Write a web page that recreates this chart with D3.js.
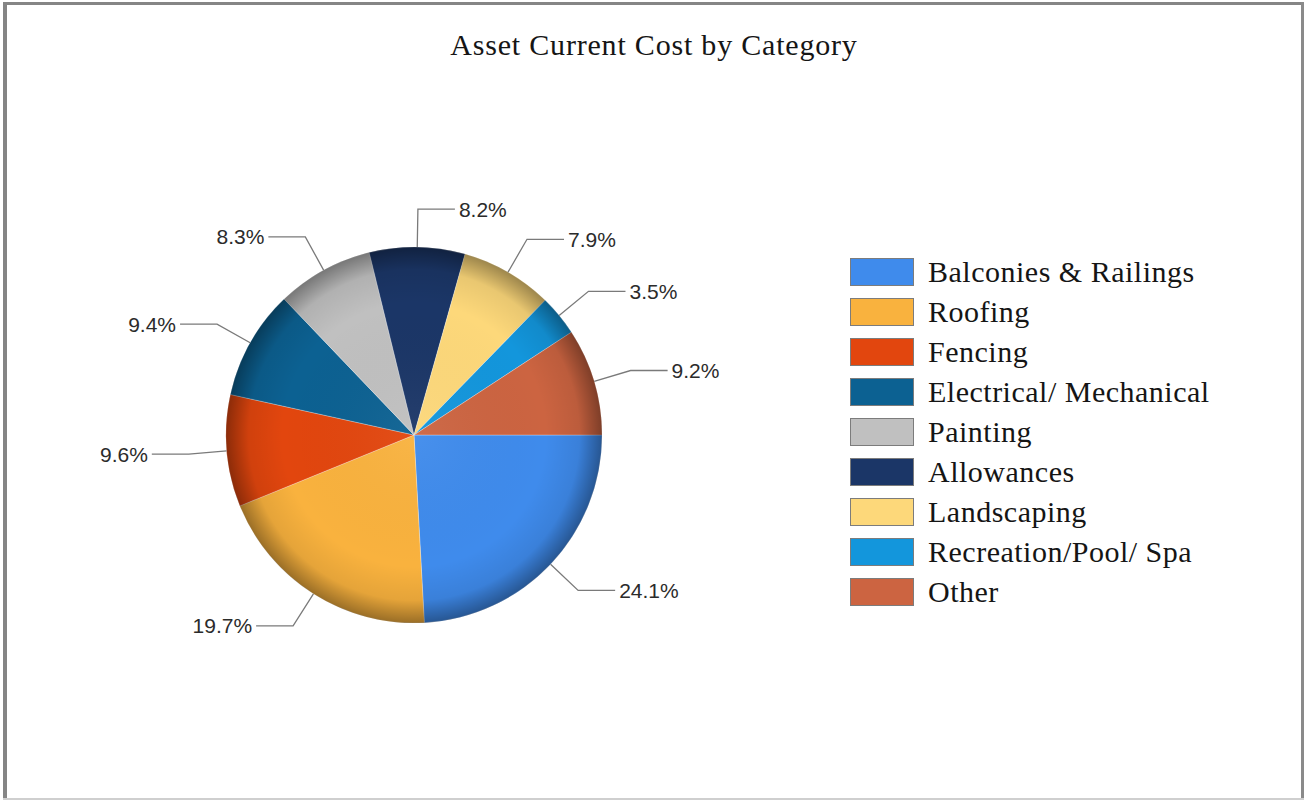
<!DOCTYPE html>
<html>
<head>
<meta charset="utf-8">
<script src="https://cdn.jsdelivr.net/npm/d3@7"></script>
<style>
  html, body { margin: 0; padding: 0; background: #fff; }
  svg { display: block; }
</style>
</head>
<body>
<svg id="chart" width="1305" height="801"></svg>
<script>
const title = "Asset Current Cost by Category";
const categories = ["Balconies & Railings", "Roofing", "Fencing", "Electrical/ Mechanical", "Painting", "Allowances", "Landscaping", "Recreation/Pool/ Spa", "Other"];
const values = [24.1, 19.7, 9.6, 9.4, 8.3, 8.2, 7.9, 3.5, 9.2];
const colors = ["#3f8bec", "#f9b23e", "#e2460e", "#0c6192", "#c0c0c0", "#1b3667", "#fdd87a", "#1396dc", "#cc6441"];

const svg = d3.select("#chart");
const W = 1305, H = 801;

// frame
svg.append("rect").attr("x", 0).attr("y", 0).attr("width", W).attr("height", H).attr("fill", "#fff");
svg.append("rect").attr("x", 3).attr("y", 2).attr("width", 1301).attr("height", 3).attr("fill", "#858585");
svg.append("rect").attr("x", 3).attr("y", 2).attr("width", 4).attr("height", 798).attr("fill", "#858585");
svg.append("rect").attr("x", 1301).attr("y", 2).attr("width", 3).attr("height", 798).attr("fill", "#8a8a8a");
svg.append("rect").attr("x", 3).attr("y", 798).attr("width", 1301).attr("height", 2).attr("fill", "#cfcfcf");

// title
svg.append("text")
  .attr("x", 654).attr("y", 55)
  .attr("text-anchor", "middle")
  .attr("font-family", "'Liberation Serif', 'Times New Roman', serif")
  .attr("font-size", 30)
  .attr("letter-spacing", "0.8px")
  .attr("fill", "#151515")
  .text(title);

// pie
const cx = 414, cy = 435, R = 188;
const g = svg.append("g").attr("transform", `translate(${cx},${cy})`);

const defs = svg.append("defs");
const rg = defs.append("radialGradient").attr("id", "shade")
  .attr("cx", "50%").attr("cy", "50%").attr("r", "50%");
rg.append("stop").attr("offset", "0%").attr("stop-color", "#fff").attr("stop-opacity", 0.05);
rg.append("stop").attr("offset", "70%").attr("stop-color", "#000").attr("stop-opacity", 0);
rg.append("stop").attr("offset", "88%").attr("stop-color", "#000").attr("stop-opacity", 0.08);
rg.append("stop").attr("offset", "100%").attr("stop-color", "#000").attr("stop-opacity", 0.38);

const pie = d3.pie().sort(null).value(d => d.v)
  .startAngle(Math.PI / 2).endAngle(Math.PI / 2 + 2 * Math.PI);
const data = categories.map((c, i) => ({ c, v: values[i], col: colors[i] }));
const arcs = pie(data);
const arc = d3.arc().innerRadius(0).outerRadius(R);

g.selectAll("path.slice").data(arcs).join("path")
  .attr("class", "slice")
  .attr("d", arc)
  .attr("fill", d => d.data.col)
  .attr("stroke", "rgba(255,255,255,0.35)")
  .attr("stroke-width", 0.8);

g.append("circle").attr("r", R).attr("fill", "url(#shade)");

// labels
const rElbow = 226, hLen = 37, gap = 4;
const lab = g.selectAll("g.lab").data(arcs).join("g").attr("class", "lab");
lab.each(function(d) {
  const a = (d.startAngle + d.endAngle) / 2;
  const sx = Math.sin(a), sy = -Math.cos(a);
  const p0 = [sx * R, sy * R];
  const p1 = [sx * rElbow, sy * rElbow];
  const right = sx >= 0;
  const p2 = [p1[0] + (right ? hLen : -hLen), p1[1]];
  d3.select(this).append("polyline")
    .attr("points", [p0, p1, p2].map(p => p.join(",")).join(" "))
    .attr("fill", "none").attr("stroke", "#7a7a7a").attr("stroke-width", 1.3);
  d3.select(this).append("text")
    .attr("x", p2[0] + (right ? gap : -gap))
    .attr("y", p2[1])
    .attr("dy", "0.36em")
    .attr("text-anchor", right ? "start" : "end")
    .attr("font-family", "'Liberation Sans', Arial, sans-serif")
    .attr("font-size", 21)
    .attr("fill", "#2b2b2b")
    .text(d3.format(".1f")(d.data.v) + "%");
});

// legend
const lx = 850, ly = 258, step = 40;
const leg = svg.append("g");
const rows = leg.selectAll("g").data(data).join("g")
  .attr("transform", (d, i) => `translate(${lx},${ly + i * step})`);
rows.append("rect").attr("x", 0.5).attr("y", 0.5).attr("width", 63).attr("height", 27)
  .attr("fill", d => d.col).attr("stroke", "#7c7c7c").attr("stroke-width", 1);
rows.append("text")
  .attr("x", 78).attr("y", 23.5)
  .attr("font-family", "'Liberation Serif', 'Times New Roman', serif")
  .attr("font-size", 30)
  .attr("letter-spacing", "0.5px")
  .attr("fill", "#151515")
  .text(d => d.c);
</script>
</body>
</html>
